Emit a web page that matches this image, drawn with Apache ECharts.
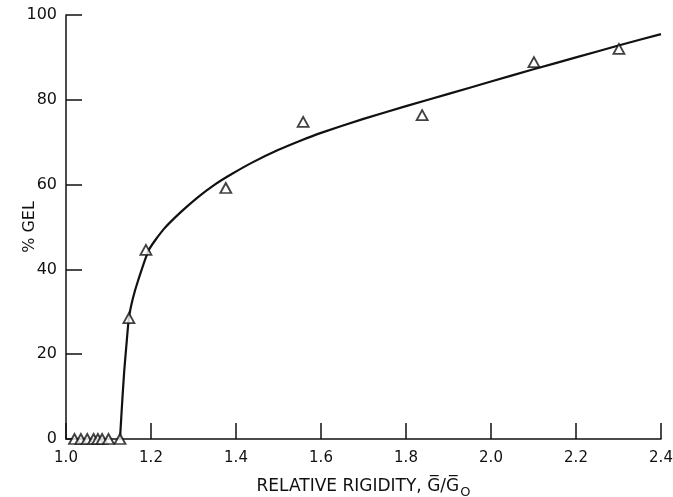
<!DOCTYPE html>
<html>
<head>
<meta charset="utf-8">
<script src="https://cdn.jsdelivr.net/npm/echarts@6/dist/echarts.min.js"></script>
<style>html,body{margin:0;padding:0;background:#fff}#c{width:673px;height:497px}</style>
</head>
<body>
<div id="c"></div>
<script>
const xTicks = [1.0, 1.2, 1.4, 1.6, 1.8, 2.0, 2.2, 2.4];
const yTicks = [0, 20, 40, 60, 80, 100];
const pointX = [1.02, 1.035, 1.05, 1.065, 1.075, 1.085, 1.10, 1.127, 1.148, 1.188, 1.376, 1.558, 1.838, 2.101, 2.301];
const pointY = [0, 0, 0, 0, 0, 0, 0, 0, 28.5, 44.6, 59.2, 74.8, 76.4, 88.9, 92.0];
const curveX = [1.127, 1.130, 1.133, 1.137, 1.142, 1.148, 1.157, 1.170, 1.195, 1.23, 1.27, 1.31, 1.35, 1.39, 1.44, 1.50, 1.55, 1.60, 1.70, 1.80, 1.90, 2.00, 2.10, 2.20, 2.30, 2.40];
const curveY = [0, 5, 10, 16, 22, 28.5, 33, 37.5, 44.6, 49.5, 53.5, 57, 60, 62.5, 65.3, 68.2, 70.3, 72.2, 75.5, 78.5, 81.4, 84.3, 87.2, 90, 92.8, 95.5];

const font = 'DejaVu Sans';
const chart = echarts.init(document.getElementById('c'), null, {renderer: 'canvas'});
chart.setOption({
  animation: false,
  backgroundColor: '#fff',
  grid: {left: 66, right: 12, top: 15, bottom: 58, containLabel: false, outerBoundsMode: 'none'},
  xAxis: {
    type: 'value', min: xTicks[0], max: xTicks[xTicks.length - 1], interval: 0.2,
    axisLine: {show: true, lineStyle: {color: '#111', width: 1.5}},
    axisTick: {show: true, inside: true, length: 16, lineStyle: {color: '#111', width: 1.5}},
    splitLine: {show: false},
    axisLabel: {color: '#111', fontFamily: font, fontSize: 15, margin: 12,
      formatter: v => v.toFixed(1)},
    name: 'RELATIVE RIGIDITY, G\u0305/G\u0305{sub|O}',
    nameLocation: 'middle', nameGap: 35,
    nameTextStyle: {color: '#111', fontFamily: font, fontSize: 17,
      rich: {sub: {fontFamily: font, fontSize: 13, color: '#111', padding: [12, 0, 0, 1]}}}
  },
  yAxis: {
    type: 'value', min: yTicks[0], max: yTicks[yTicks.length - 1], interval: 20,
    axisLine: {show: true, lineStyle: {color: '#111', width: 1.5}},
    axisTick: {show: true, inside: true, length: 16, lineStyle: {color: '#111', width: 1.5}},
    splitLine: {show: false},
    axisLabel: {color: '#111', fontFamily: font, fontSize: 16, margin: 9},
    name: '% GEL', nameLocation: 'middle', nameGap: 28, nameMoveOverlap: false,
    nameTextStyle: {color: '#111', fontFamily: font, fontSize: 16}
  },
  series: [
    {
      type: 'line', data: curveX.map((x, i) => [x, curveY[i]]),
      smooth: 0.2, showSymbol: false, symbol: 'none',
      lineStyle: {color: '#111', width: 2.2}, z: 2
    },
    {
      type: 'scatter', data: pointX.map((x, i) => [x, pointY[i]]),
      symbol: 'triangle', symbolSize: [11, 10],
      itemStyle: {color: '#fff', borderColor: '#111', borderWidth: 1.8}, z: 3
    }
  ]
});
</script>
</body>
</html>
